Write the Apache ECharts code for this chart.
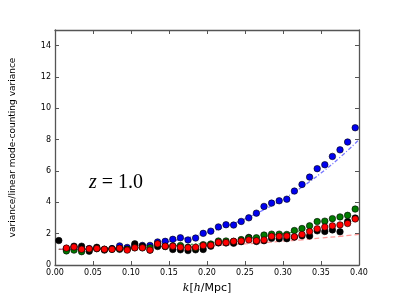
<!DOCTYPE html>
<html>
<head>
<meta charset="utf-8">
<script src="https://cdn.jsdelivr.net/npm/echarts@6/dist/echarts.min.js"></script>
<style>
html,body{margin:0;padding:0;background:#fff;}
#chart{width:399px;height:299px;}
</style>
</head>
<body>
<div id="chart"></div>
<script>
// wavenumber bins k [h/Mpc]
var kBins = [0.005,0.015,0.025,0.035,0.045,0.055,0.065,0.075,0.085,0.095,
             0.105,0.115,0.125,0.135,0.145,0.155,0.165,0.175,0.185,0.195,
             0.205,0.215,0.225,0.235,0.245,0.255,0.265,0.275,0.285,0.295,
             0.305,0.315,0.325,0.335,0.345,0.355,0.365,0.375,0.385,0.395];

var blackVals = [1.56,1.0,1.2,1.2,0.88,1.13,0.95,1.03,1.0,1.0,
                 1.35,1.2,0.95,1.18,1.18,0.99,0.97,0.92,0.97,0.99,
                 1.2,1.41,1.41,1.39,1.49,1.76,1.5,1.55,1.7,1.68,
                 1.68,1.78,1.87,1.85,2.18,2.14,2.24,2.12,2.77,3.0];

var blueVals = [null,1.05,1.1,1.0,1.05,1.05,1.0,1.05,1.22,1.12,
                1.25,1.25,1.25,1.47,1.51,1.64,1.74,1.6,1.72,2.02,
                2.16,2.43,2.57,2.55,2.78,3.01,3.31,3.74,3.95,4.1,
                4.2,4.72,5.14,5.61,6.15,6.4,6.93,7.35,7.85,8.76];

var greenVals = [null,0.9,0.95,0.85,1.0,1.05,1.0,1.0,1.05,1.0,
                 1.1,1.1,1.1,1.34,1.18,1.22,1.24,1.13,1.09,1.3,
                 1.34,1.53,1.53,1.51,1.62,1.72,1.74,1.91,1.97,1.97,
                 1.95,2.2,2.33,2.5,2.77,2.8,2.96,3.07,3.17,3.57];

var redVals = [null,1.08,1.15,1.0,1.03,1.05,1.0,1.0,1.07,0.95,
               1.1,1.1,0.95,1.35,1.2,1.2,1.13,1.1,1.13,1.24,
               1.26,1.45,1.43,1.51,1.53,1.6,1.55,1.6,1.83,1.83,
               1.85,1.8,1.95,2.14,2.31,2.42,2.5,2.56,2.65,2.94];

// model curves
var lineK = [0.005,0.025,0.05,0.075,0.1,0.125,0.15,0.175,0.2,0.225,0.25,0.275,0.3,0.325,0.35,0.375,0.4];
var blueLine  = [1.0,1.0,1.02,1.07,1.16,1.3,1.49,1.74,2.06,2.46,2.95,3.53,4.2,4.98,5.87,6.87,8.0];
var greenLine = [1.0,1.0,1.02,1.05,1.09,1.14,1.21,1.3,1.4,1.53,1.67,1.82,2.0,2.2,2.41,2.65,2.9];
var redLine   = [1.0,1.0,1.01,1.03,1.05,1.08,1.12,1.17,1.22,1.28,1.35,1.43,1.52,1.61,1.72,1.83,1.95];

var xTicks = [0,0.05,0.1,0.15,0.2,0.25,0.3,0.35,0.4];
var yTicks = [0,2,4,6,8,10,12,14];

function pairs(xs, ys){
  var out = [];
  for (var i = 0; i < xs.length; i++) if (ys[i] !== null) out.push([xs[i], ys[i]]);
  return out;
}

var chart = echarts.init(document.getElementById('chart'), null, {renderer:'canvas'});

var spine = {show:true, onZero:false, lineStyle:{color:'#555', width:1.3}};
var tickIn = {show:true, inside:true, length:4, lineStyle:{color:'#555', width:1}};

function scatter(name, vals, color){
  return {
    name:name, type:'scatter', data:pairs(kBins, vals), symbol:'circle', symbolSize:6.5,
    itemStyle:{color:color, borderColor:'#000', borderWidth:0.6, opacity:1},
    z:3
  };
}
function curve(vals, color, dash){
  return {
    type:'line', data:pairs(lineK, vals), smooth:true, symbol:'none',
    lineStyle:{color:color, width:1.3, type:dash}, z:2, silent:true
  };
}

chart.setOption({
  animation:false,
  backgroundColor:'#fff',
  grid:{left:50, right:40, top:30, bottom:31, containLabel:false},
  xAxis:[{
    type:'value', min:0, max:0.4, interval:0.05, position:'bottom',
    axisLine:spine, axisTick:tickIn, splitLine:{show:false},
    axisLabel:{color:'#000', fontSize:8, fontFamily:'DejaVu Sans', margin:4,
      formatter:function(v){ return xTicks.indexOf(+v.toFixed(2))>=0 ? v.toFixed(2) : ''; }},
    name:'{i|k}{n|[}{i|h}{n|/Mpc]}', nameLocation:'middle', nameGap:18,
    nameTextStyle:{rich:{
      i:{fontFamily:'DejaVu Serif', fontStyle:'italic', fontSize:11, color:'#000'},
      n:{fontFamily:'DejaVu Sans', fontSize:11, color:'#000'}
    }}
  },{
    type:'value', min:0, max:0.4, interval:0.05, position:'top',
    axisLine:spine, axisTick:tickIn, axisLabel:{show:false}, splitLine:{show:false}
  }],
  yAxis:[{
    type:'value', min:0, max:15, interval:2, position:'left',
    axisLine:spine, axisTick:tickIn, splitLine:{show:false},
    axisLabel:{color:'#000', fontSize:8, fontFamily:'DejaVu Sans', margin:4,
      formatter:function(v){ return yTicks.indexOf(v)>=0 ? String(v) : ''; }},
    name:'variance/linear mode-counting variance', nameLocation:'middle', nameGap:38,
    nameTextStyle:{fontSize:9, fontFamily:'DejaVu Sans', color:'#000'}
  },{
    type:'value', min:0, max:15, interval:2, position:'right',
    axisLine:spine, axisTick:tickIn, axisLabel:{show:false}, splitLine:{show:false}
  }],
  graphic:[{
    type:'text', left:89, top:173,
    style:{
      text:'{i|z}{n| = 1.0}',
      rich:{
        i:{fontFamily:'Liberation Serif', fontStyle:'italic', fontSize:20, fill:'#000'},
        n:{fontFamily:'Liberation Serif', fontSize:20, fill:'#000'}
      }
    }
  }],
  series:[
    curve(blueLine, 'rgba(60,60,255,0.7)', [4,2,1,2]),
    curve(greenLine, 'rgba(0,128,0,0.7)', [2,2]),
    curve(redLine, 'rgba(255,80,80,0.6)', [5,3]),
    scatter('blue', blueVals, '#0000ee'),
    scatter('black', blackVals, '#000000'),
    scatter('green', greenVals, '#007a00'),
    scatter('red', redVals, '#ff0000')
  ]
});
</script>
</body>
</html>
